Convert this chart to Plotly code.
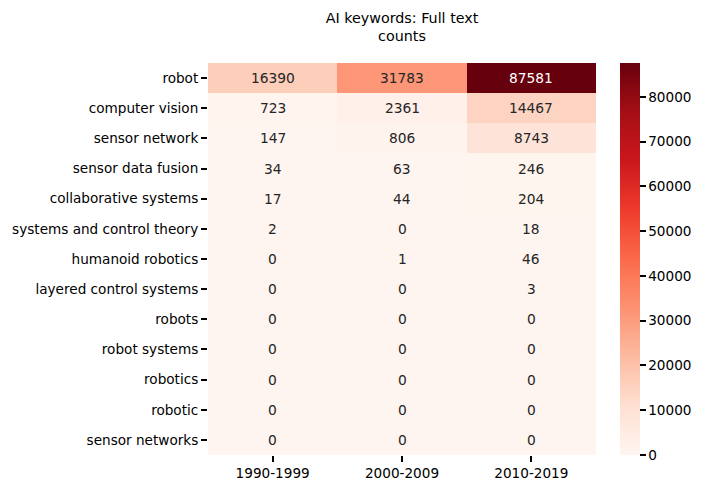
import plotly.graph_objects as go

# DATA ---------------------------------
keywords = ['robot', 'computer vision', 'sensor network', 'sensor data fusion',
            'collaborative systems', 'systems and control theory', 'humanoid robotics',
            'layered control systems', 'robots', 'robot systems', 'robotics',
            'robotic', 'sensor networks']
decades = ['1990-1999', '2000-2009', '2010-2019']

counts_1990 = [16390, 723, 147, 34, 17, 2, 0, 0, 0, 0, 0, 0, 0]
counts_2000 = [31783, 2361, 806, 63, 44, 0, 1, 0, 0, 0, 0, 0, 0]
counts_2010 = [87581, 14467, 8743, 246, 204, 18, 46, 3, 0, 0, 0, 0, 0]

cbar_ticks = [0, 10000, 20000, 30000, 40000, 50000, 60000, 70000, 80000]

# matrix rows = keywords, cols = decades
z = [[a, b, c] for a, b, c in zip(counts_1990, counts_2000, counts_2010)]
zmax = max(max(r) for r in z)

# page body has an 8px margin, so the figure is 8px smaller each way
W, H = 700, 488
L, R, T, B = 200, 112, 55, 41
tick_size = 13.6

fig = go.Figure(go.Heatmap(
    z=z, x=decades, y=keywords,
    colorscale='Reds', zmin=0, zmax=zmax,
    colorbar=dict(
        thickness=20, len=1, lenmode='fraction', y=0.5, yanchor='middle',
        x=1.062, xanchor='left', xpad=0, ypad=0, outlinewidth=0,
        tickvals=cbar_ticks, ticktext=[str(t) for t in cbar_ticks],
        ticks='outside', ticklen=6, tickwidth=1.5,
        tickcolor='black', tickfont=dict(size=tick_size, color='black'),
    ),
    hoverinfo='skip',
))

# cell labels, light text on dark cells like seaborn
for i, kw in enumerate(keywords):
    for j, dec in enumerate(decades):
        v = z[i][j]
        fig.add_annotation(x=dec, y=kw, text=str(v), showarrow=False,
                           font=dict(size=13.8, color='white' if v / zmax > 0.55 else '#262626'))

fig.update_layout(
    width=W, height=H,
    margin=dict(l=L, r=R, t=T, b=B, autoexpand=False),
    paper_bgcolor='white', plot_bgcolor='white',
    font=dict(family='DejaVu Sans', color='black'),
    title=dict(text='AI keywords: Full text<br>counts', x=(L + (W - R)) / 2 / W,
               xanchor='center', y=0.97, yanchor='top', font=dict(size=14.3)),
    xaxis=dict(ticks='outside', ticklen=6, tickwidth=1.5, tickcolor='black', automargin=False,
               tickfont=dict(size=tick_size), showgrid=False, zeroline=False),
    yaxis=dict(autorange='reversed', ticks='outside', ticklen=6, tickwidth=1.5, automargin=False,
               tickcolor='black', tickfont=dict(size=tick_size), showgrid=False, zeroline=False),
)

fig.write_html('out.html')
